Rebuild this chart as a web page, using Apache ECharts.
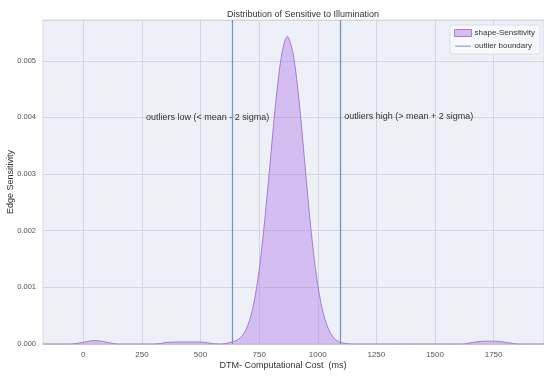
<!DOCTYPE html>
<html>
<head>
<meta charset="utf-8">
<script src="https://cdn.jsdelivr.net/npm/echarts@6/dist/echarts.min.js"></script>
<style>
  html, body { margin: 0; padding: 0; background: #fff; }
  #chart { width: 544px; height: 377px; }
</style>
</head>
<body>
<div id="chart"></div>
<script>
// density curve: [cost (ms), density]
const densityPoints = [
  [-172, 0], [-60, 0], [-30, 0.00001], [0, 0.00003], [25, 0.00005], [50, 0.00006],
  [75, 0.00005], [100, 0.00003], [125, 0.00001], [150, 0],
  [300, 0], [330, 0.00001], [360, 0.00003], [400, 0.000035], [450, 0.000035],
  [500, 0.000035], [530, 0.00002], [560, 0.000005], [590, 0],
  [620, 0.00002], [645, 0.00005], [670, 0.00011], [695, 0.00026], [720, 0.00058],
  [745, 0.00115], [770, 0.00203], [795, 0.00312], [820, 0.00423], [845, 0.00508],
  [870, 0.00543], [895, 0.00512], [920, 0.0043], [945, 0.00318], [970, 0.00206],
  [995, 0.00118], [1020, 0.0006], [1045, 0.00027], [1070, 0.0001], [1095, 0.00003],
  [1120, 0.00001], [1150, 0],
  [1620, 0], [1650, 0.00002], [1680, 0.00004], [1720, 0.00005], [1760, 0.00005],
  [1800, 0.00003], [1830, 0.00001], [1860, 0], [1965, 0]
]
// mean -/+ 2 sigma
const boundaries = [635.6, 1094]
const xTicks = [0, 250, 500, 750, 1000, 1250, 1500, 1750]
const annotations = [
  { text: 'outliers low (< mean - 2 sigma)', coord: [267, 0.004] },
  { text: 'outliers high (> mean + 2 sigma)', coord: [1113, 0.00402] }
]

const chart = echarts.init(document.getElementById('chart'))
const font = 'Liberation Sans, Arial, sans-serif'
const boundaryColor = '#7896bd'

const option = {
  animation: false,
  textStyle: { fontFamily: font },
  title: {
    text: 'Distribution of Sensitive to Illumination',
    left: 298,
    top: 5,
    textAlign: 'center',
    textStyle: { fontSize: 9, fontWeight: 'normal', color: '#333', fontFamily: font }
  },
  legend: {
    right: 4,
    top: 25,
    orient: 'vertical',
    itemWidth: 17,
    itemHeight: 7,
    itemGap: 5,
    padding: [4, 5, 4, 4],
    backgroundColor: 'rgba(248,249,252,0.9)',
    borderColor: '#dcdfe6',
    borderWidth: 1,
    borderRadius: 2,
    textStyle: { fontSize: 8, color: '#333', fontFamily: font, padding: [0, 0, 0, -2] },
    data: [
      {
        name: 'shape-Sensitivity',
        icon: 'rect',
        itemStyle: { color: '#d6bdf1', borderColor: '#a97ed8', borderWidth: 1 }
      },
      {
        name: 'outlier boundary',
        // thin line inside a full-height box
        icon: 'path://M0,0 M0,4 L20,4 L20,5.3 L0,5.3 Z M0,9',
        itemStyle: { color: boundaryColor, borderWidth: 0 }
      }
    ]
  },
  grid: {
    left: 43,
    right: 0,
    top: 20,
    bottom: 33,
    containLabel: false,
    outerBoundsMode: 'none',
    show: true,
    backgroundColor: '#eef0f8',
    borderColor: '#d6d9e2',
    borderWidth: 1
  },
  xAxis: {
    type: 'value',
    min: -172,
    max: 1965,
    name: 'DTM- Computational Cost  (ms)',
    nameLocation: 'middle',
    nameGap: 17,
    nameMoveOverlap: false,
    nameTextStyle: { fontSize: 9, color: '#333', padding: [0, 21, 0, 0] },
    axisLine: { show: true, lineStyle: { color: '#c4c8d2' } },
    axisTick: { show: false, customValues: xTicks },
    axisLabel: {
      customValues: xTicks,
      fontSize: 8,
      color: '#555',
      margin: 7,
      formatter: v => String(v)
    },
    splitLine: { show: true, lineStyle: { color: '#d2d6e0' } }
  },
  yAxis: {
    type: 'value',
    min: 0,
    max: 0.00572,
    interval: 0.001,
    name: 'Edge Sensitivity',
    nameLocation: 'middle',
    nameGap: 28,
    nameMoveOverlap: false,
    nameTextStyle: { fontSize: 9, color: '#333' },
    axisLine: { show: false },
    axisTick: { show: false },
    axisLabel: {
      fontSize: 7.5,
      color: '#555',
      margin: 7,
      showMaxLabel: false,
      formatter: v => v.toFixed(3)
    },
    splitLine: { show: true, lineStyle: { color: '#d2d6e0' } }
  },
  series: [
    {
      name: 'shape-Sensitivity',
      type: 'line',
      data: densityPoints,
      smooth: 0.3,
      symbol: 'none',
      lineStyle: { color: '#a57bd8', width: 1 },
      itemStyle: { color: '#a57bd8' },
      areaStyle: { color: '#b07ae6', opacity: 0.42 },
      z: 3
    },
    {
      name: 'outlier boundary',
      type: 'line',
      data: [],
      symbol: 'none',
      showSymbol: false,
      lineStyle: { color: boundaryColor, width: 1.3 },
      itemStyle: { color: boundaryColor },
      markLine: {
        silent: true,
        symbol: 'none',
        label: { show: false },
        lineStyle: { color: boundaryColor, width: 1.3, type: 'solid' },
        data: boundaries.map(b => ({ xAxis: b }))
      },
      markPoint: {
        silent: true,
        symbol: 'circle',
        symbolSize: 0,
        label: {
          show: true,
          position: 'right',
          distance: 0,
          fontSize: 9,
          color: '#333',
          fontFamily: font,
          formatter: p => p.name
        },
        data: annotations.map(a => ({ name: a.text, coord: a.coord }))
      },
      z: 4
    }
  ]
}

chart.setOption(option)
</script>
</body>
</html>
